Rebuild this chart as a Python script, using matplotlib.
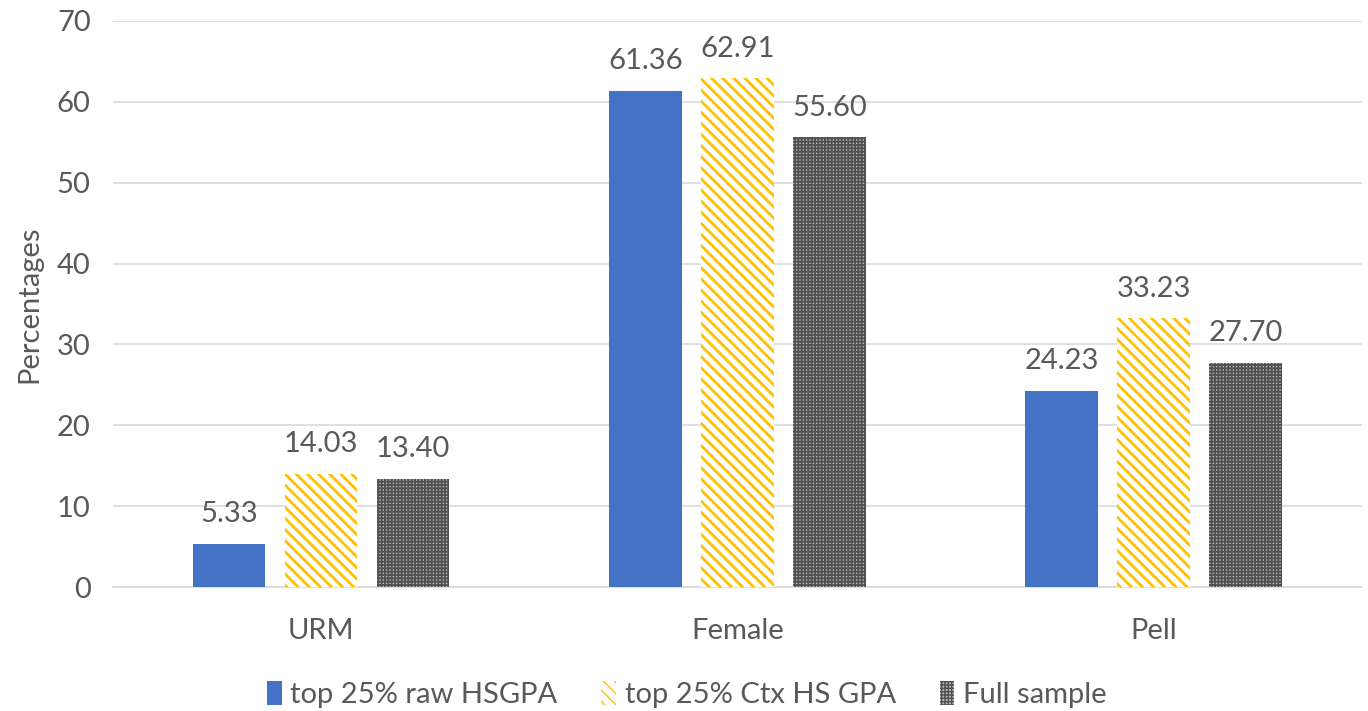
import matplotlib.pyplot as plt
import numpy as np

categories = ["URM", "Female", "Pell"]
series_names = ["top 25% raw HSGPA", "top 25% Ctx HS GPA", "Full sample"]
raw_hsgpa = [5.33, 61.36, 24.23]
ctx_hsgpa = [14.03, 62.91, 33.23]
full_sample = [13.40, 55.60, 27.70]

plt.rcParams['font.family'] = ['Lato', 'DejaVu Sans']
text_col = '#595959'
fs = 21

fig = plt.figure(figsize=(13.68, 7.11), dpi=100)
ax = fig.add_axes([0.0825, 0.1744, 0.913, 0.7961])

x = np.arange(len(categories))
w = 0.175
step = 0.221

styles = [
    dict(color='#4472C4'),
    dict(facecolor='white', edgecolor='#FFC000', hatch='\\\\\\', linewidth=0),
    dict(facecolor='#b8b8b8', edgecolor='#505050', hatch='+++++', linewidth=0),
]
hatch_lw = [1.0, 2.0, 1.3]
all_vals = [raw_hsgpa, ctx_hsgpa, full_sample]
for i, (vals, name, st) in enumerate(zip(all_vals, series_names, styles)):
    with plt.rc_context({'hatch.linewidth': hatch_lw[i]}):
        bars = ax.bar(x + (i - 1) * step, vals, w, label=name, zorder=3, **st)
    for b, v in zip(bars, vals):
        ax.annotate(f"{v:.2f}", (b.get_x() + b.get_width() / 2, v),
                    xytext=(0, 12), textcoords='offset points',
                    ha='center', va='bottom', fontsize=fs, color=text_col)

ax.set_xlim(-0.5, 2.5)
ax.set_ylim(0, 70)
ax.set_yticks(range(0, 71, 10))
ax.set_xticks(x)
ax.set_xticklabels(categories)
ax.tick_params(axis='both', length=0, labelsize=fs, colors=text_col)
ax.tick_params(axis='x', pad=22)
ax.tick_params(axis='y', pad=16)
ax.grid(axis='y', color='#d9d9d9', linewidth=1.2, zorder=0)
for s in ['top', 'right', 'left']:
    ax.spines[s].set_visible(False)
ax.spines['bottom'].set_color('#d9d9d9')
ax.spines['bottom'].set_linewidth(1.2)
ax.set_ylabel("Percentages", fontsize=fs, color=text_col, labelpad=10)

fig.legend(loc='lower center', bbox_to_anchor=(0.502, -0.033), ncol=3,
           frameon=False, fontsize=fs, labelcolor=text_col,
           handlelength=0.5, handleheight=0.9, handletextpad=0.3, columnspacing=1.5)

fig.savefig('out.png', dpi=100)
